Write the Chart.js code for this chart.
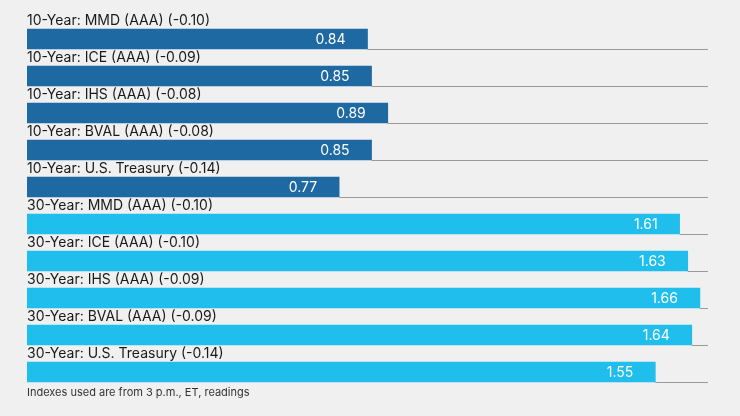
<!DOCTYPE html>
<html>
<head>
<meta charset="utf-8">
<script src="https://cdn.jsdelivr.net/npm/chart.js@4"></script>
<style>
  html, body { margin: 0; padding: 0; background: #f0f0f0; }
  #wrap { width: 740px; height: 416px; }
</style>
</head>
<body>
<div id="wrap"><canvas id="grafik" width="740" height="416"></canvas></div>
<script>
const labels = [
    '10-Year: MMD (AAA) (-0.10)',
    '10-Year: ICE (AAA) (-0.09)',
    '10-Year: IHS (AAA) (-0.08)',
    '10-Year: BVAL (AAA) (-0.08)',
    '10-Year: U.S. Treasury (-0.14)',
    '30-Year: MMD (AAA) (-0.10)',
    '30-Year: ICE (AAA) (-0.10)',
    '30-Year: IHS (AAA) (-0.09)',
    '30-Year: BVAL (AAA) (-0.09)',
    '30-Year: U.S. Treasury (-0.14)'
];
const yields = [0.84, 0.85, 0.89, 0.85, 0.77, 1.61, 1.63, 1.66, 1.64, 1.55];
const footnote = 'Indexes used are from 3 p.m., ET, readings';

const fontName = 'Inter, Lato, sans-serif';

// label above bar, value inside bar, separator line under each row
const rowPlugin = {
    id: 'rowPlugin',
    afterDatasetsDraw(chart) {
        const ctx = chart.ctx;
        const xs = chart.scales.x;
        const meta = chart.getDatasetMeta(0);
        ctx.save();
        meta.data.forEach(function (bar, i) {
            const top = bar.y - bar.height / 2;
            const bottom = bar.y + bar.height / 2;
            ctx.strokeStyle = '#9a9a9a';
            ctx.lineWidth = 1;
            ctx.beginPath();
            ctx.moveTo(bar.x, bottom + 0.5);
            ctx.lineTo(xs.right, bottom + 0.5);
            ctx.stroke();

            ctx.fillStyle = '#1a1a1a';
            ctx.font = '14px ' + fontName;
            ctx.textAlign = 'left';
            ctx.textBaseline = 'alphabetic';
            ctx.fillText(labels[i], xs.left, top - 4);

            ctx.fillStyle = '#ffffff';
            ctx.font = '14px ' + fontName;
            ctx.textAlign = 'right';
            ctx.textBaseline = 'middle';
            ctx.fillText(yields[i].toFixed(2), bar.x - 22, bar.y + 1);
        });
        ctx.fillStyle = '#333333';
        ctx.font = '11px ' + fontName;
        ctx.textAlign = 'left';
        ctx.textBaseline = 'middle';
        ctx.fillText(footnote, xs.left, 393);
        ctx.restore();
    }
};

new Chart('grafik', {
    type: 'bar',
    data: {
        labels: labels,
        datasets: [{
            data: yields,
            barThickness: 20,
            borderWidth: 0,
            backgroundColor: function (context) {
                return context.dataIndex < 5 ? '#1f69a3' : '#1fbeed';
            }
        }]
    },
    options: {
        indexAxis: 'y',
        responsive: false,
        animation: false,
        layout: { padding: { top: 20.5, bottom: 25.5, left: 27, right: 32 } },
        plugins: { legend: { display: false }, tooltip: { enabled: false } },
        scales: {
            x: { display: false, min: 0, max: 1.68 },
            y: { display: false }
        }
    },
    plugins: [rowPlugin]
});
</script>
</body>
</html>
